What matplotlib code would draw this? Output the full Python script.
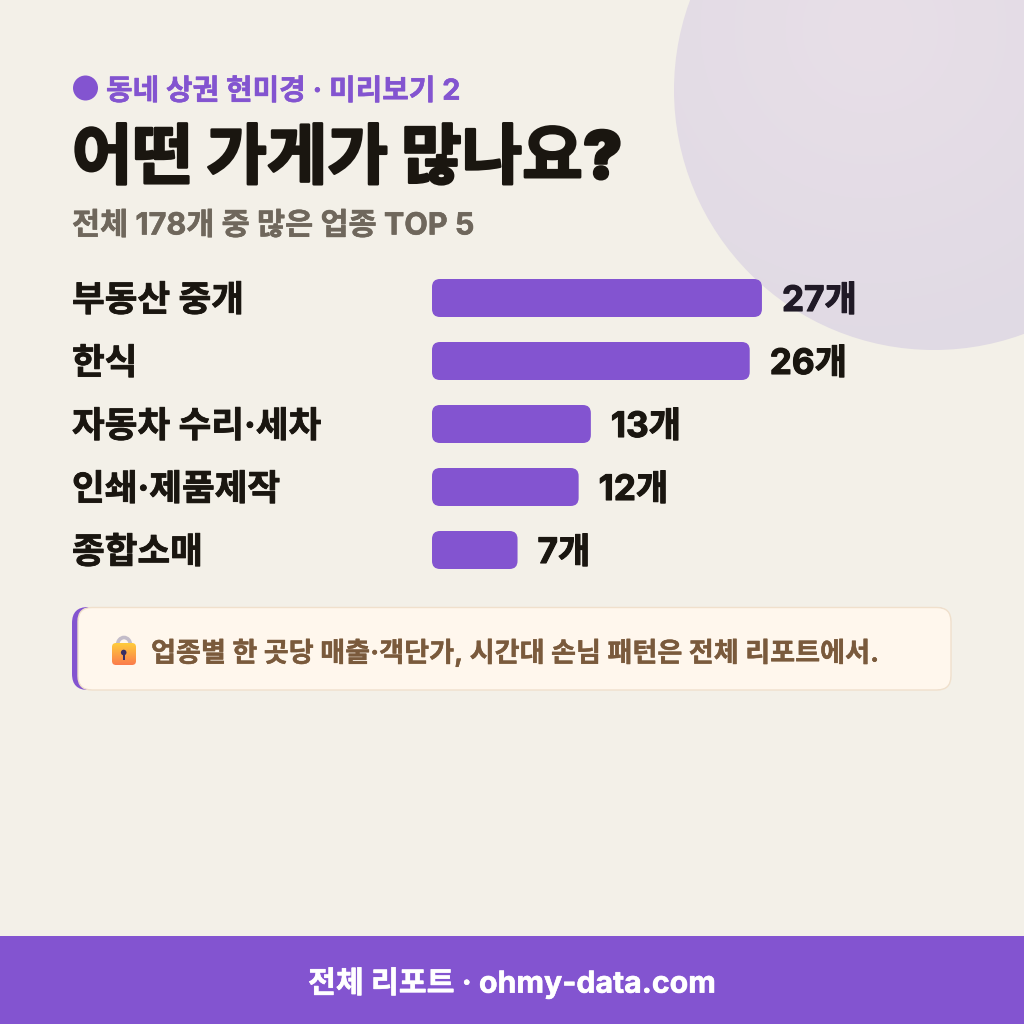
import numpy as np
import matplotlib
matplotlib.use('Agg')
import matplotlib.pyplot as plt
import matplotlib.patheffects as pe
from matplotlib.patches import FancyBboxPatch, Circle, Rectangle, Arc

plt.rcParams['font.family'] = ['Inter', 'Noto Sans CJK KR', 'DejaVu Sans']

categories = ['부동산 중개', '한식', '자동차 수리·세차', '인쇄·제품제작', '종합소매']
counts = [27, 26, 13, 12, 7]
value_labels = ['27개', '26개', '13개', '12개', '7개']
value_colors = ['#201a26', '#1a1610', '#1a1610', '#1a1610', '#1a1610']

eyebrow = '동네 상권 현미경 · 미리보기 2'
title = '어떤 가게가 많나요?'
subtitle = '전체 178개 중 많은 업종 TOP 5'
note = '업종별 한 곳당 매출·객단가, 시간대 손님 패턴은 전체 리포트에서.'
footer = '전체 리포트 · ohmy-data.com'

PURPLE = '#8354d0'
BG = '#f3f0e8'
INK = '#1a1610'


def heavy(width, color):
    # thickens the glyphs a little, the installed weights stop at bold
    return [pe.withStroke(linewidth=width, foreground=color)]


fig = plt.figure(figsize=(10.24, 10.24), dpi=100, facecolor=BG)

# full page axes in pixels, y pointing down
page = fig.add_axes([0, 0, 1, 1])
page.axis('off')

# soft circle in the corner, radial shading
xs, ys = np.meshgrid(np.arange(674, 1194), np.arange(-170, 350))
dist = np.clip(np.hypot(xs - 870, ys - 28) / 340, 0, 1)[..., None]
c0 = np.array([0xe8, 0xdf, 0xe8]) / 255
c1 = np.array([0xe0, 0xda, 0xe4]) / 255
img = c0 * (1 - dist) + c1 * dist
blob = Circle((934, 90), 260, transform=page.transData, fc='none', ec='none')
page.add_patch(blob)
im = page.imshow(img, extent=(674, 1194, 350, -170), zorder=1, aspect='auto')
im.set_clip_path(blob)

# header
page.add_patch(Circle((85.5, 88), 12.5, fc=PURPLE, ec='none', zorder=3))
page.text(106, 89, eyebrow, fontsize=20.8, fontweight='bold', color=PURPLE, va='center_baseline', zorder=3,
          path_effects=heavy(0.4, PURPLE))
page.text(72, 154, title, fontsize=47.4, fontweight='black', color=INK, va='center_baseline', zorder=3,
          path_effects=heavy(1.8, INK))
page.text(72, 223, subtitle, fontsize=22, fontweight='bold', color='#6f675c', va='center_baseline', zorder=3,
          path_effects=heavy(0.4, '#6f675c'))

# note card with the thick left edge
page.add_patch(FancyBboxPatch((72, 607), 879, 83, boxstyle='round,pad=0,rounding_size=16',
                              fc=PURPLE, ec='none', zorder=2))
page.add_patch(FancyBboxPatch((78, 607.5), 873, 82.5, boxstyle='round,pad=0,rounding_size=14',
                              fc='#fff7ed', ec='#f0e0cc', lw=1, zorder=3))
page.text(151, 650, note, fontsize=19.55, fontweight='bold', color='#7a5a3c', va='center_baseline', zorder=4,
          path_effects=heavy(0.3, '#7a5a3c'))

# padlock icon
page.add_patch(Arc((124, 645), 13, 15, theta1=180, theta2=360, ec='#c3bcc9', lw=2.6, zorder=4))
page.add_patch(Rectangle((116.2, 644), 2.8, 4, fc='#c3bcc9', ec='none', zorder=4))
page.add_patch(Rectangle((129.2, 644), 2.8, 4, fc='#c3bcc9', ec='none', zorder=4))
lock = FancyBboxPatch((112, 643), 24, 22, boxstyle='round,pad=0,rounding_size=4', fc='none', ec='none', zorder=5)
page.add_patch(lock)
lock_grad = np.zeros((64, 2, 3))
lock_grad[..., 0] = np.linspace(0xff, 0xfb, 64)[:, None] / 255
lock_grad[..., 1] = np.linspace(0xcc, 0x7c, 64)[:, None] / 255
lock_grad[..., 2] = np.linspace(0x3c, 0x4c, 64)[:, None] / 255
lock_im = page.imshow(lock_grad, extent=(112, 136, 665, 643), zorder=5, aspect='auto')
lock_im.set_clip_path(lock)
page.add_patch(Circle((123.7, 652.5), 2.8, fc='#3a2f63', ec='none', zorder=6))
page.add_patch(Rectangle((122.6, 653), 2.2, 7, fc='#3a2f63', ec='none', zorder=6))

# footer band
page.add_patch(Rectangle((0, 936), 1024, 88, fc=PURPLE, ec='none', zorder=2))
page.text(512, 980, footer, fontsize=21.8, fontweight='bold', color='white', ha='center', va='center_baseline', zorder=3,
          path_effects=heavy(0.4, 'white'))

page.set_xlim(0, 1024)
page.set_ylim(1024, 0)

# bars, one count = 12.22 px, rows 63 px apart
px_per_count = 12.22
row_px = 63
ax_w = 40 * px_per_count
ax = fig.add_axes([432 / 1024, 1 - (298 + 4.5 * row_px) / 1024, ax_w / 1024, 5 * row_px / 1024])
ax.patch.set_alpha(0)
y = np.arange(len(categories))
bars = ax.barh(y, counts, height=38 / row_px, color='none')
ax.set_xlim(0, 40)
ax.set_ylim(4.5, -0.5)
for side in ax.spines.values():
    side.set_visible(False)
ax.set_xticks([])
ax.set_yticks(y, categories, fontsize=25.6, fontweight='bold', color=INK, ha='left',
              path_effects=heavy(0.6, INK))
ax.tick_params(axis='y', length=0, pad=360 * 0.72)

for bar, lab, col in zip(bars, value_labels, value_colors):
    bx, by = bar.get_x(), bar.get_y()
    w, h = bar.get_width(), bar.get_height()
    ax.add_patch(FancyBboxPatch((bx, by), w, h, boxstyle='round,pad=0,rounding_size=%f' % (8 / px_per_count),
                                mutation_aspect=px_per_count / row_px, fc=PURPLE, ec='none'))
    ax.annotate(lab, (w, by + h / 2), xytext=(20 * 0.72, 0), textcoords='offset points',
                fontsize=25.3, fontweight='bold', color=col, va='center_baseline',
                path_effects=heavy(0.8, col))

fig.savefig('out.png', dpi=100, facecolor=BG)
